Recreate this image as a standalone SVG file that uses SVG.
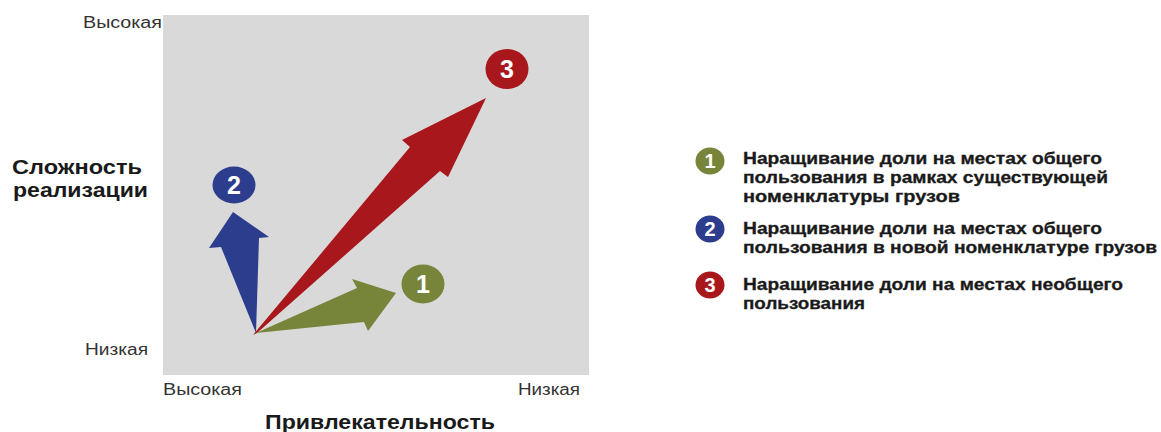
<svg xmlns="http://www.w3.org/2000/svg" width="1161" height="432" viewBox="0 0 1161 432">
  <style>
    .ax{font-family:"Liberation Sans",Arial,sans-serif;font-size:16px;fill:#333}
    .title{font-family:"Liberation Sans",Arial,sans-serif;font-size:20px;font-weight:bold;fill:#1a1a1a}
    .leg{font-family:"Liberation Sans",Arial,sans-serif;font-size:17px;font-weight:bold;fill:#1a1a1a;stroke:#1a1a1a;stroke-width:0.3}
    .num{font-family:"Liberation Sans",Arial,sans-serif;font-weight:bold;fill:#fff;text-anchor:middle}
    .green{fill:#76853a}
    .blue{fill:#2d3d8e}
    .red{fill:#a8171b}
  </style>
  <rect width="1161" height="432" fill="#fff"/>
  <g id="plot">
    <rect x="163" y="15" width="426" height="360" fill="#d9d9d9"/>
  </g>
  <g id="axis-labels">
    <text class="ax" x="83" y="28" textLength="79" lengthAdjust="spacingAndGlyphs">Высокая</text>
    <text class="ax" x="85" y="355" textLength="63" lengthAdjust="spacingAndGlyphs">Низкая</text>
    <text class="title" x="12" y="174" textLength="130" lengthAdjust="spacingAndGlyphs">Сложность</text>
    <text class="title" x="13" y="197" textLength="135" lengthAdjust="spacingAndGlyphs">реализации</text>
    <text class="ax" x="163" y="395" textLength="79" lengthAdjust="spacingAndGlyphs">Высокая</text>
    <text class="ax" x="518" y="395" textLength="62" lengthAdjust="spacingAndGlyphs">Низкая</text>
    <text class="title" x="265" y="429" textLength="230" lengthAdjust="spacingAndGlyphs">Привлекательность</text>
  </g>
  <g id="connectors">
    <polygon class="red" points="253,335 410,147 402,140 486,98 448,177 440,171 257,333"/>
    <polygon class="blue" points="256,333 221,247 209,248 233,212 269,237 259,238"/>
    <polygon class="green" points="256,333 357,288 352,279 396,293 368,331 364,322"/>
  </g>
  <g id="node-1">
    <ellipse class="green" cx="423" cy="284" rx="21.5" ry="19.5"/>
    <text class="num" x="423" y="293" font-size="25">1</text>
  </g>
  <g id="node-2">
    <ellipse class="blue" cx="234" cy="185" rx="21.5" ry="18.5"/>
    <text class="num" x="234" y="194" font-size="25">2</text>
  </g>
  <g id="node-3">
    <ellipse class="red" cx="507" cy="69" rx="21.5" ry="20"/>
    <text class="num" x="507" y="78" font-size="25">3</text>
  </g>
  <g id="legend-1">
    <ellipse class="green" cx="710" cy="161" rx="14.5" ry="13.5"/>
    <text class="num" x="710" y="168" font-size="20">1</text>
    <text class="leg" x="743" y="164" textLength="359" lengthAdjust="spacingAndGlyphs">Наращивание доли на местах общего</text>
    <text class="leg" x="743" y="183" textLength="365" lengthAdjust="spacingAndGlyphs">пользования в рамках существующей</text>
    <text class="leg" x="743" y="202" textLength="217" lengthAdjust="spacingAndGlyphs">номенклатуры грузов</text>
  </g>
  <g id="legend-2">
    <ellipse class="blue" cx="710" cy="229" rx="14.5" ry="13.5"/>
    <text class="num" x="710" y="236" font-size="20">2</text>
    <text class="leg" x="743" y="234" textLength="359" lengthAdjust="spacingAndGlyphs">Наращивание доли на местах общего</text>
    <text class="leg" x="743" y="253" textLength="414" lengthAdjust="spacingAndGlyphs">пользования в новой номенклатуре грузов</text>
  </g>
  <g id="legend-3">
    <ellipse class="red" cx="710" cy="285" rx="14.5" ry="13.5"/>
    <text class="num" x="710" y="292" font-size="20">3</text>
    <text class="leg" x="743" y="290" textLength="380" lengthAdjust="spacingAndGlyphs">Наращивание доли на местах необщего</text>
    <text class="leg" x="743" y="309" textLength="122" lengthAdjust="spacingAndGlyphs">пользования</text>
  </g>
</svg>
